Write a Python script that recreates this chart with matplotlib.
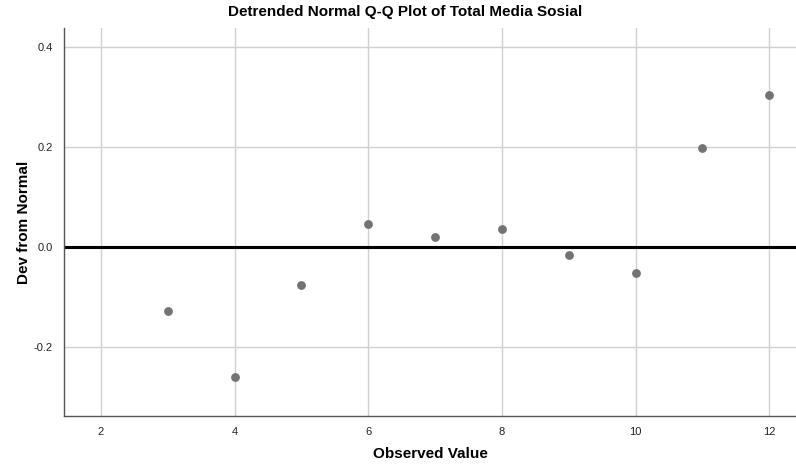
import matplotlib
matplotlib.use("Agg")
import matplotlib.pyplot as plt

observed = [3, 4, 5, 6, 7, 8, 9, 10, 11, 12]
deviation = [-0.128, -0.260, -0.076, 0.046, 0.020, 0.036, -0.016, -0.052, 0.198, 0.304]
x_ticks = [2, 4, 6, 8, 10, 12]
y_ticks = [-0.2, 0.0, 0.2, 0.4]

plt.rcParams['font.family'] = ['Liberation Sans', 'DejaVu Sans']

fig = plt.figure(figsize=(7.96, 4.66), dpi=100)
ax = fig.add_axes([0.0804, 0.1073, 0.9196, 0.8326])

ax.grid(True, color='#d0d0d0', linewidth=1.0)
ax.set_axisbelow(True)
ax.axhline(0, color='black', linewidth=2.2, zorder=2)
ax.scatter(observed, deviation, s=40, color='#737373', zorder=3, linewidths=0)

ax.set_xlim(1.446, 12.40)
ax.set_ylim(-0.338, 0.438)
ax.set_xticks(x_ticks)
ax.set_yticks(y_ticks)
ax.set_yticklabels([f"{v:.1f}" for v in y_ticks])
ax.tick_params(length=0, labelsize=8, pad=8, colors='#222222')

for side in ['top', 'right']:
    ax.spines[side].set_visible(False)
for side in ['left', 'bottom']:
    ax.spines[side].set_color('#555555')
    ax.spines[side].set_linewidth(1.0)

ax.set_xlabel('Observed Value', fontsize=11, fontweight='bold', labelpad=7)
ax.set_ylabel('Dev from Normal', fontsize=11, fontweight='bold', labelpad=2)
fig.text(0.509, 0.974, 'Detrended Normal Q-Q Plot of Total Media Sosial',
         ha='center', va='center', fontsize=11, fontweight='bold')

fig.savefig('out.png', dpi=100)
